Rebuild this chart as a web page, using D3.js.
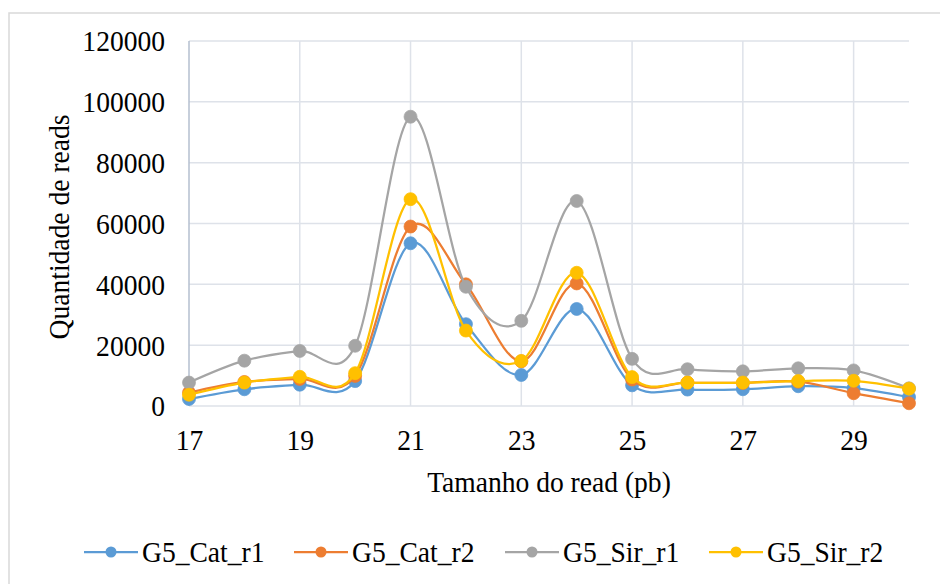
<!DOCTYPE html>
<html>
<head>
<meta charset="utf-8">
<script src="https://cdn.jsdelivr.net/npm/d3@7"></script>
<style>
  html, body { margin: 0; padding: 0; background: #fff; }
  svg { display: block; }
  svg text { font-family: "Liberation Serif", Tinos, "Times New Roman", Times, "DejaVu Serif", "Noto Serif", serif; fill: #000; }
</style>
</head>
<body>
<svg id="chart" width="940" height="584"></svg>
<script>
// Read length (nt) on the x axis
const readSizes = [17, 18, 19, 20, 21, 22, 23, 24, 25, 26, 27, 28, 29, 30];

// Read counts per library
const catR1 = [2300, 5500, 7000, 8200, 53500, 26900, 10200, 31900, 6800, 5400, 5500, 6500, 5900, 2900];
const catR2 = [4400, 7900, 8900, 9900, 59000, 40000, 14700, 40300, 8700, 7700, 7600, 8000, 4200, 900];
const sirR1 = [7700, 14900, 18100, 19800, 95100, 39200, 28000, 67400, 15500, 12100, 11400, 12400, 11700, 5800];
const sirR2 = [3700, 7700, 9600, 10800, 68000, 24800, 14800, 43800, 9500, 7700, 7700, 8200, 8300, 5700];

const seriesNames = ["G5_Cat_r1", "G5_Cat_r2", "G5_Sir_r1", "G5_Sir_r2"];
const seriesValues = [catR1, catR2, sirR1, sirR2];
const seriesColors = ["#5B9BD5", "#ED7D31", "#A5A5A5", "#FFC000"];

const xTicks = [17, 19, 21, 23, 25, 27, 29];
const yTicks = [0, 20000, 40000, 60000, 80000, 100000, 120000];

const xTitle = "Tamanho do read (pb)";
const yTitle = "Quantidade de reads";

const svg = d3.select("#chart");
const FONT = 29;
const SQUEEZE = 0.95;

// Condense a text element horizontally along its own direction
function condense(sel) {
  sel.each(function () {
    const len = this.getComputedTextLength();
    d3.select(this)
      .attr("textLength", len * SQUEEZE)
      .attr("lengthAdjust", "spacingAndGlyphs");
  });
}

// Chart frame
svg.append("rect")
  .attr("x", 9).attr("y", 13)
  .attr("width", 960).attr("height", 600)
  .attr("fill", "#fff")
  .attr("stroke", "#D9D9D9")
  .attr("stroke-width", 1.5);

const x = d3.scaleLinear().domain([17, 30]).range([189, 909]);
const y = d3.scaleLinear().domain([0, 120000]).range([406, 41]);

const gridColor = "#DEE2E9";

// Horizontal gridlines
svg.append("g").selectAll("line")
  .data(yTicks)
  .join("line")
  .attr("x1", x(17)).attr("x2", x(30))
  .attr("y1", d => y(d)).attr("y2", d => y(d))
  .attr("stroke", gridColor)
  .attr("stroke-width", 1.5);

// Vertical gridlines
svg.append("g").selectAll("line")
  .data(xTicks.filter(d => d !== 17))
  .join("line")
  .attr("x1", d => x(d)).attr("x2", d => x(d))
  .attr("y1", y(0)).attr("y2", y(120000))
  .attr("stroke", gridColor)
  .attr("stroke-width", 1.5);

// Value axis line
svg.append("line")
  .attr("x1", x(17)).attr("x2", x(17))
  .attr("y1", y(0)).attr("y2", y(120000))
  .attr("stroke", "#B4BFCF")
  .attr("stroke-width", 1.5);

// Y tick labels
const yAxis = d3.axisLeft(y).tickValues(yTicks).tickSize(0).tickPadding(0).tickFormat(d3.format("d"));
const gy = svg.append("g").attr("transform", "translate(165,0)").call(yAxis);
gy.attr("font-family", null).attr("font-size", null);
gy.select(".domain").remove();
gy.selectAll("text")
  .attr("font-size", FONT)
  .attr("fill", "#000")
  .attr("dy", "0.34em")
  .call(condense);

// X tick labels
const xAxis = d3.axisBottom(x).tickValues(xTicks).tickSize(0).tickPadding(0).tickFormat(d3.format("d"));
const gx = svg.append("g").attr("transform", "translate(0,440)").call(xAxis);
gx.attr("font-family", null).attr("font-size", null);
gx.select(".domain").remove();
gx.selectAll("text")
  .attr("font-size", FONT)
  .attr("fill", "#000")
  .attr("dy", "0.34em")
  .call(condense);

// Axis titles
svg.append("text")
  .attr("x", 549).attr("y", 482)
  .attr("dy", "0.34em")
  .attr("text-anchor", "middle")
  .attr("font-size", FONT)
  .text(xTitle)
  .call(condense);

svg.append("text")
  .attr("transform", "translate(59,227) rotate(-90)")
  .attr("dy", "0.34em")
  .attr("text-anchor", "middle")
  .attr("font-size", FONT)
  .text(yTitle)
  .call(condense);

// Smoothed series lines with markers
const line = d3.line()
  .x((d, i) => x(readSizes[i]))
  .y(d => y(d))
  .curve(d3.curveCardinal.tension(0));

seriesValues.forEach((vals, s) => {
  const g = svg.append("g");
  g.append("path")
    .datum(vals)
    .attr("d", line)
    .attr("fill", "none")
    .attr("stroke", seriesColors[s])
    .attr("stroke-width", 2.25)
    .attr("stroke-linejoin", "round");
  g.selectAll("circle")
    .data(vals)
    .join("circle")
    .attr("cx", (d, i) => x(readSizes[i]))
    .attr("cy", d => y(d))
    .attr("r", 6.5)
    .attr("fill", seriesColors[s])
    .attr("stroke", seriesColors[s])
    .attr("stroke-width", 0.75);
});

// Legend
const legendStarts = [84, 294, 505, 709];
const legendY = 552;
const legend = svg.append("g");
seriesNames.forEach((name, s) => {
  const lx = legendStarts[s];
  const item = legend.append("g");
  item.append("line")
    .attr("x1", lx).attr("x2", lx + 54)
    .attr("y1", legendY).attr("y2", legendY)
    .attr("stroke", seriesColors[s])
    .attr("stroke-width", 2.25);
  item.append("circle")
    .attr("cx", lx + 27).attr("cy", legendY)
    .attr("r", 5.5)
    .attr("fill", seriesColors[s]);
  item.append("text")
    .attr("x", lx + 58).attr("y", legendY)
    .attr("dy", "0.34em")
    .attr("font-size", FONT)
    .text(name)
    .call(condense);
});
</script>
</body>
</html>
